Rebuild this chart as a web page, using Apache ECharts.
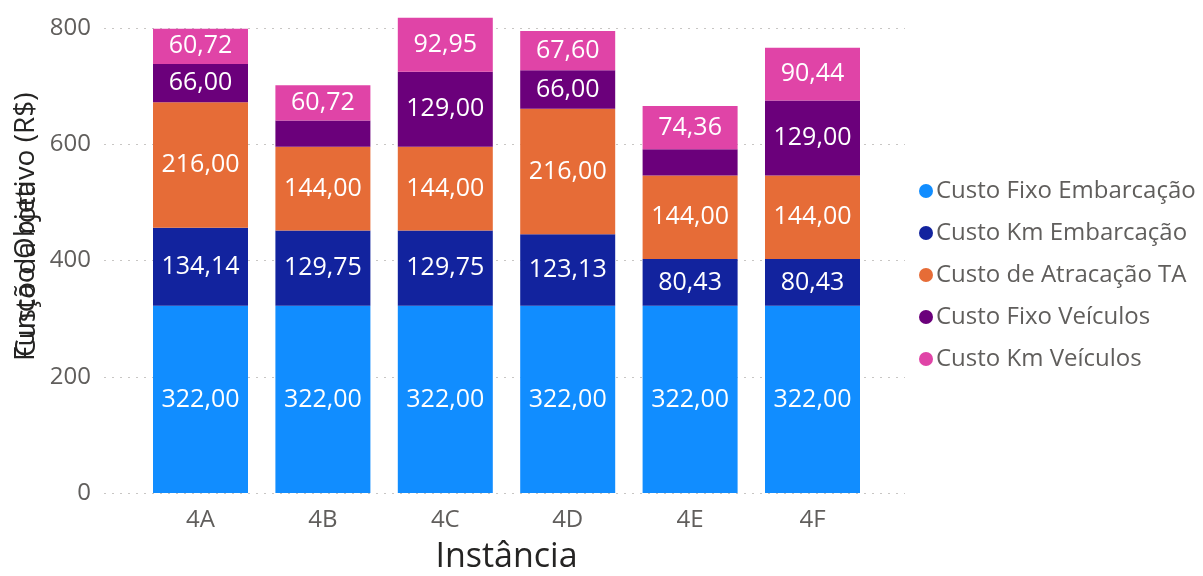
<!DOCTYPE html>
<html>
<head>
<meta charset="utf-8">
<script src="https://cdn.jsdelivr.net/npm/echarts@6/dist/echarts.min.js"></script>
<style>
  html, body { margin: 0; padding: 0; background: #ffffff; }
  #chart { width: 1203px; height: 576px; }
</style>
</head>
<body>
<div id="chart"></div>
<script>
// Instances and cost components (R$)
const categories = ['4A', '4B', '4C', '4D', '4E', '4F'];
const custoFixoEmbarcacao = [322.00, 322.00, 322.00, 322.00, 322.00, 322.00];
const custoKmEmbarcacao = [134.14, 129.75, 129.75, 123.13, 80.43, 80.43];
const custoAtracacaoTA = [216.00, 144.00, 144.00, 216.00, 144.00, 144.00];
const custoFixoVeiculos = [66.00, 45.00, 129.00, 66.00, 45.00, 129.00];
const custoKmVeiculos = [60.72, 60.72, 92.95, 67.60, 74.36, 90.44];
const yTicks = [0, 200, 400, 600, 800];

const seriesDefs = [
  { name: 'Custo Fixo Embarcação', data: custoFixoEmbarcacao, color: '#118DFF' },
  { name: 'Custo Km Embarcação', data: custoKmEmbarcacao, color: '#12239E' },
  { name: 'Custo de Atracação TA', data: custoAtracacaoTA, color: '#E66C37' },
  { name: 'Custo Fixo Veículos', data: custoFixoVeiculos, color: '#6B007B' },
  { name: 'Custo Km Veículos', data: custoKmVeiculos, color: '#E044A7' }
];

const labelFont = '"Open Sans", "Noto Sans", sans-serif';

// Values shown with comma decimals; segments too thin for a label stay blank
function fmt(v) {
  return v < 50 ? '' : v.toFixed(2).replace('.', ',');
}

const chart = echarts.init(document.getElementById('chart'));

const yMin = yTicks[0];
const yMax = yTicks[yTicks.length - 1];
const yStep = yTicks[1] - yTicks[0];

chart.setOption({
  animation: false,
  backgroundColor: '#ffffff',
  grid: [
    // bars
    { left: 139.3, right: 329.3, top: 28, bottom: 83, outerBoundsMode: 'none' },
    // value scale with dotted guide lines, slightly wider than the bars' area
    { left: 104, right: 298, top: 28, bottom: 83, outerBoundsMode: 'none' }
  ],
  legend: {
    orient: 'vertical',
    left: 914,
    top: 174,
    itemWidth: 14,
    itemHeight: 14,
    itemGap: 18,
    icon: 'circle',
    textStyle: { fontFamily: labelFont, fontSize: 24, color: '#605E5C', padding: [0, 0, 0, -2] },
    data: seriesDefs.map(s => s.name)
  },
  xAxis: [
    {
      type: 'category',
      gridIndex: 0,
      data: categories,
      axisLine: { show: false },
      axisTick: { show: false },
      axisLabel: { fontFamily: labelFont, fontSize: 24, color: '#605E5C', margin: 15 },
      name: 'Instância',
      nameLocation: 'middle',
      nameGap: 47,
      nameTextStyle: { fontFamily: labelFont, fontSize: 34, color: '#252423' }
    },
    { type: 'value', gridIndex: 1, show: false }
  ],
  yAxis: [
    {
      type: 'value',
      gridIndex: 0,
      min: yMin,
      max: yMax,
      interval: yStep,
      axisLabel: { show: false },
      splitLine: { show: false },
      axisLine: { show: false },
      axisTick: { show: false }
    },
    {
      type: 'value',
      gridIndex: 1,
      min: yMin,
      max: yMax,
      interval: yStep,
      axisLine: { show: false },
      axisTick: { show: false },
      axisLabel: { fontFamily: labelFont, fontSize: 24, color: '#605E5C', margin: 13 },
      splitLine: { lineStyle: { color: '#C8C6C4', type: [2, 6], width: 1 } }
    }
  ],
  graphic: [
    {
      type: 'text', x: 26, y: 361, rotation: Math.PI / 2,
      style: {
        text: 'Função Objetivo (R$)', fontFamily: labelFont, fontSize: 28,
        fill: '#252423', textAlign: 'left', textVerticalAlign: 'middle'
      }
    },
    {
      type: 'text', x: 27, y: 357, rotation: Math.PI / 2,
      style: {
        text: 'Custo da rota', fontFamily: labelFont, fontSize: 28,
        fill: '#252423', textAlign: 'left', textVerticalAlign: 'middle'
      }
    }
  ],
  series: seriesDefs.map(s => ({
    name: s.name,
    type: 'bar',
    stack: 'total',
    xAxisIndex: 0,
    yAxisIndex: 0,
    barWidth: 95,
    clip: false,
    data: s.data,
    itemStyle: { color: s.color },
    label: {
      show: true,
      position: 'inside',
      color: '#ffffff',
      fontFamily: labelFont,
      fontSize: 25,
      formatter: p => fmt(p.value)
    }
  }))
});
</script>
</body>
</html>
